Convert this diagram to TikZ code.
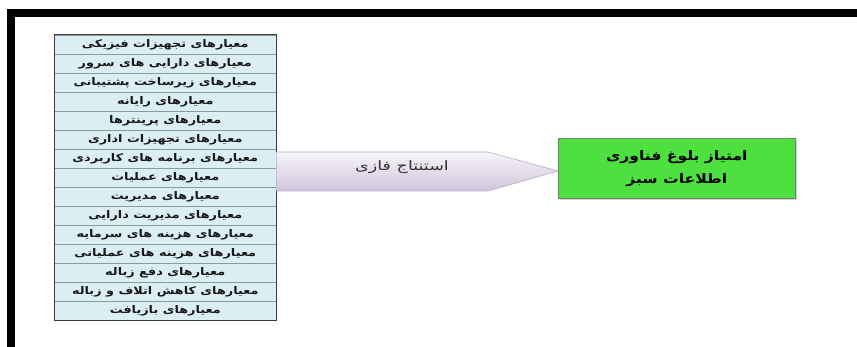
\documentclass[tikz,border=0pt]{standalone}
\usepackage{fontspec}
\usepackage{graphicx}
\TeXXeTstate=1
\newfontfamily\arabicfont[Script=Arabic]{DejaVu Sans}
\usetikzlibrary{shadows}
\definecolor{rowfill}{HTML}{DAEEF3}
\definecolor{rowline}{HTML}{8C9AA0}
\definecolor{tabborder}{HTML}{3A3A3A}
\definecolor{arrowtop}{HTML}{F6F4F8}
\definecolor{arrowbot}{HTML}{D0C5DD}
\definecolor{arrowline}{HTML}{B9ABCB}
\definecolor{greenfill}{HTML}{4DE03E}
\definecolor{greenline}{HTML}{6E7F6A}
\tikzset{
  rowbox/.style={draw=rowline, fill=rowfill, line width=0.6pt, minimum width=222pt,
    minimum height=19pt, inner sep=0pt, anchor=north west,
    font=\arabicfont\bfseries\fontsize{10.5}{12}\selectfont, text=black!90},
  resultbox/.style={draw=greenline, fill=greenfill, line width=0.6pt,
    minimum width=237pt, minimum height=60pt, inner sep=0pt, anchor=north west,
    drop shadow={shadow xshift=1.5pt, shadow yshift=-1.5pt, fill=black!35},
    font=\arabicfont\bfseries\fontsize{13}{23}\selectfont, align=center},
  arrowlabel/.style={font=\arabicfont\fontsize{13}{15}\selectfont, text=black!80},
  framebar/.style={fill=black, draw=none}
}
\begin{document}
\begin{tikzpicture}[x=1pt,y=-1pt]
\useasboundingbox (0,0) rectangle (857,347);
\fill[white] (0,0) rectangle (857,347);
% frame
\path[framebar] (7,9) rectangle (857,17);
\path[framebar] (7,9) rectangle (15,347);
% table rows
\foreach \t [count=\i from 0] in {
  معیارهای تجهیزات فیزیکی,
  معیارهای دارایی های سرور,
  معیارهای زیرساخت پشتیبانی,
  معیارهای رایانه,
  معیارهای پرینترها,
  معیارهای تجهیزات اداری,
  معیارهای برنامه های کاربردی,
  معیارهای عملیات,
  معیارهای مدیریت,
  معیارهای مدیریت دارایی,
  معیارهای هزینه های سرمایه,
  معیارهای هزینه های عملیاتی,
  معیارهای دفع زباله,
  معیارهای کاهش اتلاف و زباله,
  معیارهای بازیافت}
{
  \node[rowbox] (r\i) at (54,{35+19*\i}) {\scalebox{1.22}[1]{\beginR\t\endR}};
}
\draw[tabborder, line width=1pt] (r0.north west) rectangle (r14.south east);
% result box
\node[resultbox] (res) at (558,138) {\scalebox{1.2}[1]{\beginR امتیاز بلوغ فناوری\endR}\\\scalebox{1.2}[1]{\beginR اطلاعات سبز\endR}};
% arrow
\coordinate (a1) at (r0.east |- 0,152);
\coordinate (a2) at (488,152);
\coordinate (tip) at (res.west |- 0,171);
\coordinate (a3) at (488,191);
\coordinate (a4) at (r0.east |- 0,191);
\path[shade, top color=arrowtop, bottom color=arrowbot, draw=arrowline, line width=0.6pt]
  (a1) -- (a2) -- (tip) -- (a3) -- (a4) -- cycle;
\node[arrowlabel] (lab) at (402,167) {\scalebox{1.35}[1]{\beginR استنتاج فازی\endR}};
\end{tikzpicture}
\end{document}
